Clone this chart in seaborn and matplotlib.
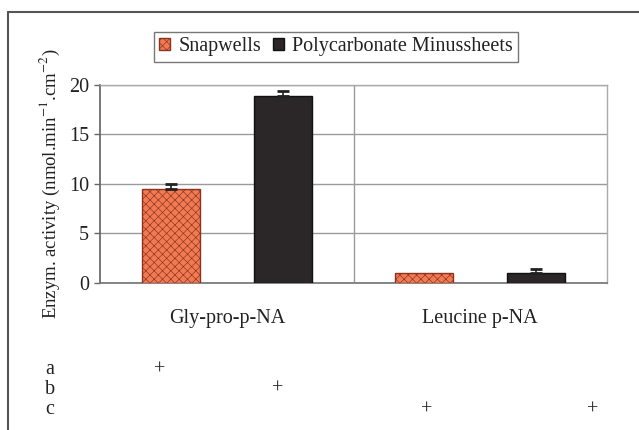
import matplotlib
matplotlib.use("Agg")
import matplotlib.pyplot as plt
from matplotlib.lines import Line2D
from matplotlib.patches import Patch
import seaborn as sns
import pandas as pd

substrates = ["Gly-pro-p-NA", "Leucine p-NA"]
membranes = ["Snapwells", "Polycarbonate Minussheets"]
snapwells_vals = [9.5, 1.0]
polycarb_vals = [18.9, 1.05]
snapwells_err = [0.45, 0.0]
polycarb_err = [0.45, 0.4]
row_labels = ["a", "b", "c"]
plus_marks = [("a", 160), ("b", 278), ("c", 427), ("c", 593)]

sns.set_theme(style="white")
plt.rcParams["font.family"] = ["Liberation Serif", "DejaVu Serif"]
plt.rcParams["mathtext.fontset"] = "stix"
plt.rcParams["hatch.linewidth"] = 0.45

FS = 14.5

df = pd.DataFrame({
    "substrate": substrates * 2,
    "membrane": [membranes[0]] * 2 + [membranes[1]] * 2,
    "value": snapwells_vals + polycarb_vals,
})

W, H = 639, 430
fig = plt.figure(figsize=(W / 100, H / 100), dpi=100)
fig.patch.set_facecolor("white")
ax = fig.add_axes([100 / W, 1 - 283 / H, 507 / W, (283 - 85) / H])

orange = "#f27a52"
dark = "#2b2627"
sns.barplot(data=df, x="substrate", y="value", hue="membrane",
            hue_order=membranes, order=substrates,
            palette=[orange, dark], width=0.884, gap=0.48,
            errorbar=None, legend=False, ax=ax, zorder=3)

errs = {membranes[0]: snapwells_err, membranes[1]: polycarb_err}
vals = {membranes[0]: snapwells_vals, membranes[1]: polycarb_vals}
patches = [p for p in ax.patches]
for i, p in enumerate(patches):
    m = membranes[i // 2]
    j = i % 2
    if m == membranes[0]:
        p.set_facecolor(orange)
        p.set_edgecolor("#8a3320")
        p.set_hatch("xxxx")
        p.set_linewidth(1.0)
    else:
        p.set_facecolor(dark)
        p.set_edgecolor("#111111")
        p.set_linewidth(1.0)
    cx = p.get_x() + p.get_width() / 2
    if errs[m][j] > 0:
        ax.errorbar(cx, vals[m][j], yerr=[[0], [errs[m][j]]], fmt="none",
                    ecolor="#222222", elinewidth=1.2, capsize=4, capthick=2,
                    zorder=4)

ax.set_xlim(-0.5, 1.5)
ax.set_ylim(0, 20)
ax.set_yticks([0, 5, 10, 15, 20])
ax.yaxis.grid(True, color="#9a9a9a", linewidth=1.0, zorder=0)
ax.axvline(0.5, color="#9a9a9a", linewidth=1.0, zorder=1)
ax.set_axisbelow(True)
for s in ["top", "right"]:
    ax.spines[s].set_color("#aaaaaa")
    ax.spines[s].set_linewidth(1.0)
ax.spines["left"].set_color("#666666")
ax.spines["bottom"].set_color("#777777")
ax.tick_params(axis="y", which="both", left=True, length=4, width=1,
               color="#666666", pad=4, labelsize=FS, labelcolor="#222222")
ax.tick_params(axis="x", bottom=False, labelsize=FS, labelcolor="#222222",
               pad=13)
ax.set_xlabel("")
ax.set_ylabel("Enzym. activity (nmol.min$^{-1}$.cm$^{-2}$)", fontsize=13.5,
              color="#222222", labelpad=5)

handles = [Patch(facecolor=orange, edgecolor="#8a3320", hatch="xxxx"),
           Patch(facecolor=dark, edgecolor="#111111")]
leg = fig.legend(handles, membranes, loc="center", ncol=2,
                 bbox_to_anchor=(336 / W, 1 - 47 / H), frameon=True,
                 fontsize=FS, handlelength=0.55, handleheight=0.55,
                 handletextpad=0.4, columnspacing=0.6, borderpad=0.25,
                 fancybox=False)
leg.get_frame().set_edgecolor("#555555")
leg.get_frame().set_linewidth(1.0)
for t in leg.get_texts():
    t.set_color("#222222")

ys = {"a": 370, "b": 389, "c": 410}
for lab in row_labels:
    fig.text(45 / W, 1 - ys[lab] / H, lab, fontsize=FS, color="#222222",
             va="center", ha="left")
for lab, x in plus_marks:
    fig.text(x / W, 1 - ys[lab] / H, "+", fontsize=FS, color="#222222",
             va="center", ha="center")

fig.add_artist(Line2D([8 / W, 8 / W], [0, 1 - 12 / H], transform=fig.transFigure,
                      color="#555555", linewidth=1.5))
fig.add_artist(Line2D([8 / W, 1], [1 - 12 / H, 1 - 12 / H],
                      transform=fig.transFigure, color="#555555", linewidth=1.5))

fig.savefig("out.png", dpi=100)
